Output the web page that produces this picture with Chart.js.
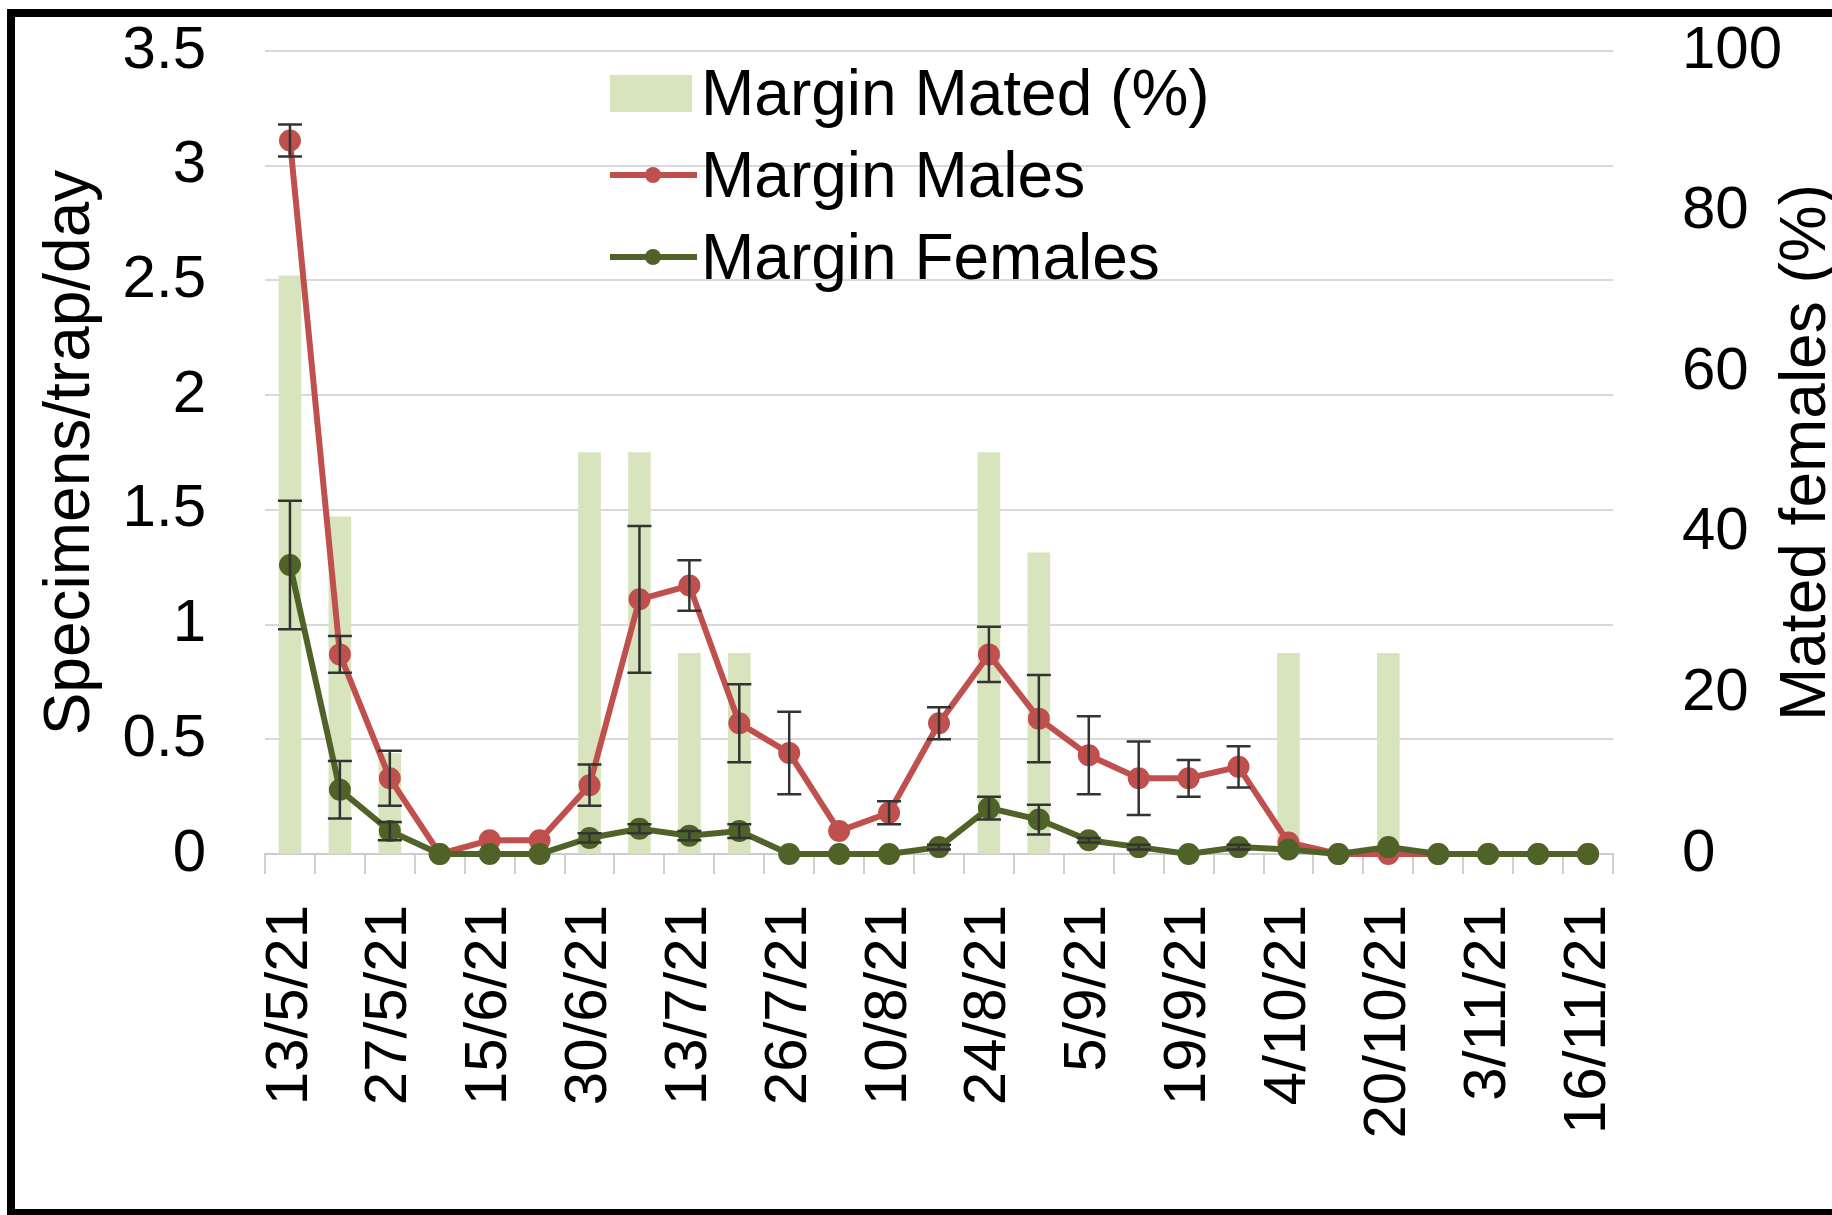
<!DOCTYPE html>
<html lang="en">
<head>
    <meta charset="UTF-8">
    <title>Margin - males, females and mated females</title>
    <script src="https://cdn.jsdelivr.net/npm/chart.js@4.4.1/dist/chart.umd.min.js"></script>
    <style>
        html, body { margin: 0; padding: 0; background: #fff; overflow: hidden; }
        #wrap { position: relative; width: 1832px; height: 1215px; }
        #frame { position: absolute; left: 7px; top: 9px; right: -30px; bottom: -1px;
                 border: 8px solid #000; border-bottom-width: 7px; pointer-events: none; }
        #legend { position: absolute; left: 610px; top: 52px; color: #000;
                  font-family: "Liberation Sans", Arial, sans-serif; font-size: 64px; }
        #legend .row { height: 82px; display: flex; align-items: center; white-space: nowrap; }
        #legend .box { width: 82px; height: 37px; margin-right: 9px; }
        #legend .line { position: relative; width: 87px; height: 6px; margin-right: 4px; }
        #legend .dot { position: absolute; left: 35px; top: -5px; width: 16px; height: 16px; border-radius: 50%; }
    </style>
</head>
<body>
<div id="wrap">
    <canvas id="chart" width="1832" height="1215"></canvas>
    <div id="legend"></div>
    <div id="frame"></div>
</div>

<script type="text/javascript">
    // shown date labels (every second sampling date)
    const tickLabels = ['13/5/21', '27/5/21', '15/6/21', '30/6/21', '13/7/21', '26/7/21', '10/8/21',
        '24/8/21', '5/9/21', '19/9/21', '4/10/21', '20/10/21', '3/11/21', '16/11/21'];

    // specimens/trap/day
    const males = [3.11, 0.87, 0.33, 0, 0.06, 0.06, 0.30, 1.11, 1.17, 0.57, 0.44, 0.10, 0.18, 0.57,
        0.87, 0.59, 0.43, 0.33, 0.33, 0.38, 0.05, 0, 0, 0, 0, 0, 0];
    const malesErr = [0.07, 0.08, 0.12, 0, 0, 0, 0.09, 0.32, 0.11, 0.17, 0.18, 0, 0.05, 0.07,
        0.12, 0.19, 0.17, 0.16, 0.08, 0.09, 0, 0, 0, 0, 0, 0, 0];
    const females = [1.26, 0.28, 0.10, 0, 0, 0, 0.07, 0.11, 0.08, 0.10, 0, 0, 0, 0.03,
        0.20, 0.15, 0.06, 0.03, 0, 0.03, 0.02, 0, 0.03, 0, 0, 0, 0];
    const femalesErr = [0.28, 0.125, 0.04, 0, 0, 0, 0.02, 0.02, 0.02, 0.03, 0, 0, 0, 0.01,
        0.05, 0.065, 0.01, 0.01, 0, 0.01, 0, 0, 0, 0, 0, 0, 0];

    // mated females (%)
    const mated = [72, 42, 12.5, null, null, null, 50, 50, 25, 25, null, null, null, null,
        50, 37.5, null, null, null, null, 25, null, 25, null, null, null, null];

    const leftTicks = [0, 0.5, 1, 1.5, 2, 2.5, 3, 3.5];
    const rightTicks = [0, 20, 40, 60, 80, 100];

    const categories = males.map(function (v, i) {
        return i % 2 === 0 ? tickLabels[i / 2] : '';
    });

    const FONT = '"Liberation Sans", Arial, sans-serif';

    // error bars drawn through the y scale of each dataset
    const errorBars = {
        id: 'errorBars',
        afterDatasetsDraw: function (chart) {
            const ctx = chart.ctx;
            chart.data.datasets.forEach(function (ds, i) {
                if (!ds.errors) return;
                const meta = chart.getDatasetMeta(i);
                const scale = chart.scales[ds.yAxisID];
                ctx.save();
                ctx.strokeStyle = '#333333';
                ctx.lineWidth = 2.5;
                meta.data.forEach(function (pt, j) {
                    const e = ds.errors[j];
                    if (!e) return;
                    const top = scale.getPixelForValue(ds.data[j] + e);
                    const bot = scale.getPixelForValue(ds.data[j] - e);
                    ctx.beginPath();
                    ctx.moveTo(pt.x, top); ctx.lineTo(pt.x, bot);
                    ctx.moveTo(pt.x - 12, top); ctx.lineTo(pt.x + 12, top);
                    ctx.moveTo(pt.x - 12, bot); ctx.lineTo(pt.x + 12, bot);
                    ctx.stroke();
                });
                ctx.restore();
            });
        }
    };

    // right axis title reads bottom-to-top like the left one
    const rightTitle = {
        id: 'rightTitle',
        afterDraw: function (chart) {
            const ctx = chart.ctx, a = chart.chartArea, s = chart.scales.y1;
            ctx.save();
            ctx.translate(s.right - 7, (a.top + a.bottom) / 2);
            ctx.rotate(-Math.PI / 2);
            ctx.font = '64px ' + FONT;
            ctx.fillStyle = '#000';
            ctx.textAlign = 'center';
            ctx.textBaseline = 'alphabetic';
            ctx.fillText('Mated females (%)', 0, 0);
            ctx.restore();
        }
    };

    // fixed axis sizes so the plot area sits where the original one does
    function fixWidth(w) {
        return function (s) {
            s.width = w;
            s.paddingTop = 0;
            s.paddingBottom = 0;
        };
    }

    const chart = new Chart(document.getElementById('chart').getContext('2d'), {
        type: 'bar',
        data: {
            labels: categories,
            datasets: [
                {
                    type: 'line',
                    label: 'Margin Males',
                    data: males,
                    errors: malesErr,
                    yAxisID: 'y',
                    borderColor: '#c0504d',
                    backgroundColor: '#c0504d',
                    pointBackgroundColor: '#c0504d',
                    pointBorderColor: '#c0504d',
                    borderWidth: 6,
                    pointRadius: 8,
                    tension: 0,
                    clip: false,
                    order: 2
                },
                {
                    type: 'line',
                    label: 'Margin Females',
                    data: females,
                    errors: femalesErr,
                    yAxisID: 'y',
                    borderColor: '#4f6228',
                    backgroundColor: '#4f6228',
                    pointBackgroundColor: '#4f6228',
                    pointBorderColor: '#4f6228',
                    borderWidth: 6,
                    pointRadius: 8,
                    tension: 0,
                    clip: false,
                    order: 1
                },
                {
                    label: 'Margin Mated (%)',
                    data: mated,
                    yAxisID: 'y1',
                    backgroundColor: '#d7e4bd',
                    barThickness: 22,
                    order: 3
                }
            ]
        },
        options: {
            responsive: false,
            animation: false,
            layout: {padding: {top: 51, left: 0, right: 0, bottom: 0}},
            plugins: {
                legend: {display: false},
                tooltip: {enabled: false}
            },
            scales: {
                x: {
                    offset: true,
                    grid: {offset: true, drawOnChartArea: false, drawTicks: true, tickLength: 20,
                        color: '#d0d0d0', lineWidth: 2},
                    border: {color: '#cccccc', width: 2},
                    ticks: {autoSkip: false, maxRotation: 90, minRotation: 90, padding: 31,
                        color: '#000', font: {family: FONT, size: 60}},
                    afterFit: function (s) { s.height = 361; }
                },
                y: {
                    position: 'left',
                    min: 0, max: 3.5,
                    afterBuildTicks: function (s) {
                        s.ticks = leftTicks.map(function (v) { return {value: v}; });
                    },
                    ticks: {padding: 59, color: '#000', font: {family: FONT, size: 60},
                        callback: function (v) { return String(v); }},
                    grid: {color: '#d9d9d9', lineWidth: 2, drawTicks: false},
                    border: {display: false},
                    title: {display: true, text: 'Specimens/trap/day', color: '#000',
                        font: {family: FONT, size: 64}, padding: {top: 33, bottom: 0}},
                    afterFit: fixWidth(265)
                },
                y1: {
                    position: 'right',
                    min: 0, max: 100,
                    afterBuildTicks: function (s) {
                        s.ticks = rightTicks.map(function (v) { return {value: v}; });
                    },
                    ticks: {padding: 69, color: '#000', font: {family: FONT, size: 60},
                        callback: function (v) { return String(v); }},
                    grid: {drawOnChartArea: false, drawTicks: false},
                    border: {display: false},
                    afterFit: fixWidth(219)
                }
            }
        },
        plugins: [errorBars, rightTitle]
    });

    // html legend in the order of the reference: bars, males, females
    const legendEl = document.getElementById('legend');
    [2, 0, 1].forEach(function (i) {
        const ds = chart.data.datasets[i];
        const row = document.createElement('div');
        row.className = 'row';
        if (ds.type === 'line') {
            row.innerHTML = '<div class="line" style="background:' + ds.borderColor + '">' +
                '<div class="dot" style="background:' + ds.borderColor + '"></div></div>';
        } else {
            row.innerHTML = '<div class="box" style="background:' + ds.backgroundColor + '"></div>';
        }
        const txt = document.createElement('span');
        txt.textContent = ds.label;
        row.appendChild(txt);
        legendEl.appendChild(row);
    });
</script>
</body>
</html>
